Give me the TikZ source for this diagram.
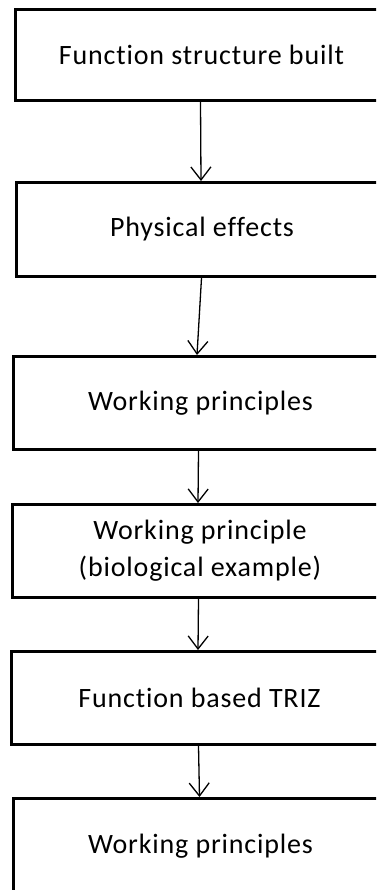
\documentclass[tikz,border=0pt]{standalone}
\usepackage{fontspec}
\setmainfont{Carlito}[Ligatures={NoCommon},LetterSpace=3]
\usetikzlibrary{arrows.meta,positioning}
\begin{document}
\begin{tikzpicture}[x=1pt,y=-1pt,
  stepbox/.style={draw=black,line width=3pt,fill=white,inner sep=0pt,
    font=\fontsize{28}{37}\selectfont,align=center},
  flow/.style={line width=1.3pt,-{Straight Barb[length=13pt,width=20pt,line width=1.3pt]}}]
  \useasboundingbox (0,0) rectangle (376,890);
  \clip (0,0) rectangle (376,890);
  \fill[white] (0,0) rectangle (376,890);
  % boxes; their right sides run past the page edge
  \node[stepbox,minimum width=372pt,minimum height=91pt,anchor=north west] (b1) at (14,8) {Function structure built};
  \node[stepbox,minimum width=371pt,minimum height=94pt,anchor=north west] (b2) at (15,181) {Physical effects};
  \node[stepbox,minimum width=374pt,minimum height=93pt,anchor=north west] (b3) at (12,355) {Working principles};
  \node[stepbox,minimum width=375pt,minimum height=93pt,anchor=north west] (b4) at (11,503) {Working principle\\(biological example)};
  \node[stepbox,minimum width=376pt,minimum height=93pt,anchor=north west] (b5) at (10,650) {Function based TRIZ};
  \node[stepbox,minimum width=374pt,minimum height=96pt,anchor=north west] (b6) at (12,797) {Working principles};
  % connectors
  \draw[flow] ([xshift=-1pt]b1.south) -- ([xshift=-1pt]b2.north);
  \draw[flow] ([xshift=-0.5pt]b2.south) -- ([xshift=-3.5pt]b3.north);
  \draw[flow] ([xshift=-2pt]b3.south) -- ([xshift=-2pt]b4.north);
  \draw[flow] ([xshift=-1.5pt]b4.south) -- ([xshift=-1.5pt]b5.north);
  \draw[flow] ([xshift=-1pt]b5.south) -- ([xshift=-1pt]b6.north);
\end{tikzpicture}
\end{document}
